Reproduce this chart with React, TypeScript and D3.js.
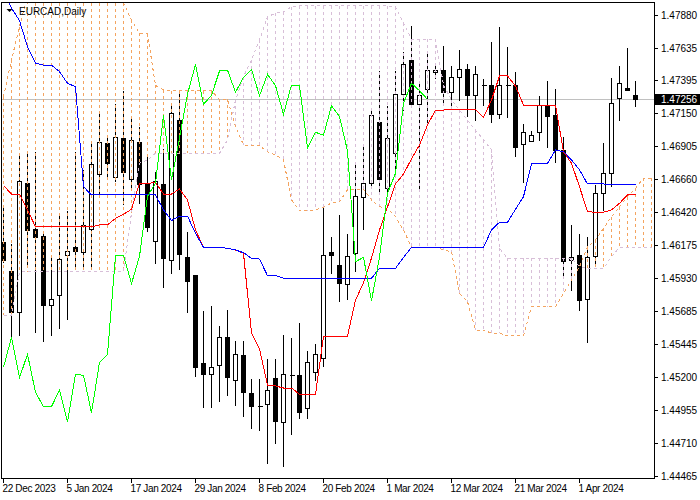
import React from "react";
import * as d3 from "d3";

const dateLabels = ["22 Dec 2023", "5 Jan 2024", "17 Jan 2024", "29 Jan 2024", "8 Feb 2024", "20 Feb 2024", "1 Mar 2024", "12 Mar 2024", "21 Mar 2024", "1 Apr 2024"];
const dateBars = [0, 8, 16, 24, 32, 40, 48, 56, 64, 72];
const priceTicks = ["1.47880", "1.47635", "1.47395", "1.47150", "1.46905", "1.46660", "1.46420", "1.46175", "1.45930", "1.45685", "1.45445", "1.45200", "1.44955", "1.44710", "1.44465"];
const lastPrice = 1.47256;

const open = [1.46199, 1.45981, 1.45678, 1.46632, 1.46297, 1.46238, 1.45733, 1.45802, 1.46103, 1.46157,
  1.46125, 1.46295, 1.46702, 1.46931, 1.46680, 1.46968, 1.46665, 1.46939, 1.46628, 1.46208,
  1.46628, 1.46063, 1.47103, 1.46083, 1.45950, 1.45304, 1.45223, 1.45284, 1.45496, 1.45180,
  1.45363, 1.45082, 1.44983, 1.45000, 1.45188, 1.44867, 1.45215, 1.45215, 1.44971, 1.45237,
  1.45341, 1.46127, 1.46029, 1.45888, 1.46114, 1.46532, 1.46632, 1.47086, 1.46595, 1.46854,
  1.47294, 1.47542, 1.47220, 1.47331, 1.47456, 1.47466, 1.47308, 1.47419, 1.47478, 1.47283,
  1.47355, 1.47362, 1.47146, 1.47357, 1.47357, 1.46924, 1.46946, 1.47013, 1.47207, 1.47133,
  1.46876, 1.46066, 1.46103, 1.45777, 1.46092, 1.46561, 1.46709, 1.47261, 1.47340, 1.47286];
const high = [1.46460, 1.46191, 1.46845, 1.46869, 1.46869, 1.46268, 1.46097, 1.46413, 1.46433, 1.46869,
  1.46734, 1.46931, 1.47177, 1.46993, 1.47227, 1.47325, 1.47128, 1.47054, 1.46852, 1.46721,
  1.46894, 1.47227, 1.47331, 1.46280, 1.45950, 1.45691, 1.45728, 1.45580, 1.45703, 1.45476,
  1.45476, 1.45193, 1.45193, 1.45341, 1.45341, 1.45518, 1.45493, 1.45609, 1.45402, 1.45452,
  1.46458, 1.46240, 1.46401, 1.46265, 1.46771, 1.46906, 1.47190, 1.47473, 1.47214, 1.47473,
  1.47609, 1.47799, 1.47399, 1.47621, 1.47510, 1.47658, 1.47510, 1.47626, 1.47518, 1.47503,
  1.47412, 1.47683, 1.47794, 1.47646, 1.47461, 1.47074, 1.47029, 1.47281, 1.47392, 1.47338,
  1.46985, 1.46327, 1.46265, 1.46245, 1.46623, 1.46939, 1.47419, 1.47503, 1.47641, 1.47392];
const low = [1.46053, 1.45501, 1.45513, 1.46031, 1.45530, 1.45464, 1.45513, 1.45563, 1.45629, 1.45994,
  1.46018, 1.46018, 1.46536, 1.46674, 1.46647, 1.46475, 1.46586, 1.46487, 1.46277, 1.46043,
  1.45866, 1.45969, 1.45999, 1.45678, 1.45205, 1.44978, 1.44978, 1.45020, 1.45069, 1.44995,
  1.44909, 1.44823, 1.44810, 1.44564, 1.44712, 1.44539, 1.44774, 1.44897, 1.44897, 1.45180,
  1.45279, 1.45969, 1.45759, 1.45777, 1.45981, 1.46290, 1.46610, 1.46561, 1.46561, 1.46709,
  1.47177, 1.47214, 1.46573, 1.47066, 1.47414, 1.47214, 1.47214, 1.47251, 1.47128, 1.47100,
  1.47207, 1.47083, 1.47116, 1.47123, 1.46837, 1.46640, 1.46946, 1.46950, 1.46899, 1.46788,
  1.45944, 1.45841, 1.45693, 1.45456, 1.46031, 1.46433, 1.46610, 1.47098, 1.47320, 1.47202];
const close = [1.46063, 1.45678, 1.46652, 1.46285, 1.46233, 1.45728, 1.45777, 1.46068, 1.46132, 1.46129,
  1.46325, 1.46771, 1.46939, 1.46780, 1.46976, 1.46717, 1.46953, 1.46628, 1.46307, 1.46647,
  1.46077, 1.47153, 1.46107, 1.45907, 1.45271, 1.45223, 1.45274, 1.45496, 1.45197, 1.45370,
  1.45089, 1.44983, 1.44983, 1.45106, 1.44872, 1.45223, 1.45215, 1.44938, 1.45311, 1.45370,
  1.46100, 1.46100, 1.45893, 1.46095, 1.46539, 1.46635, 1.47138, 1.46660, 1.46968, 1.47294,
  1.47515, 1.47220, 1.47286, 1.47466, 1.47473, 1.47308, 1.47419, 1.47478, 1.47283, 1.47441,
  1.47357, 1.47146, 1.47362, 1.47357, 1.46899, 1.47013, 1.46990, 1.47209, 1.47128, 1.46876,
  1.46055, 1.46088, 1.45767, 1.46088, 1.46561, 1.46709, 1.47227, 1.47375, 1.47320, 1.47256];

const tenkan = [1.46618, 1.46556, 1.46556, 1.46438, 1.46314, 1.46314, 1.46314, 1.46314, 1.46314, 1.46314,
  1.46314, 1.46314, 1.46327, 1.46327, 1.46376, 1.46406, 1.46443, 1.46635, 1.46635, 1.46640,
  1.46556, 1.46556, 1.46593, 1.46512, 1.46290, 1.46162, 1.46162, 1.46162, 1.46154, 1.46142,
  1.46117, 1.45526, 1.45410, 1.45143, 1.45136, 1.45121, 1.45121, 1.45075, 1.45075, 1.45075,
  1.45504, 1.45504, 1.45504, 1.45504, 1.45772, 1.45898, 1.46083, 1.46290, 1.46460, 1.46630,
  1.46704, 1.46815, 1.46919, 1.47066, 1.47177, 1.47177, 1.47183, 1.47183, 1.47183, 1.47183,
  1.47123, 1.47251, 1.47429, 1.47429, 1.47355, 1.47214, 1.47214, 1.47214, 1.47212, 1.47212,
  1.46869, 1.46783, 1.46610, 1.46425, 1.46421, 1.46421, 1.46438, 1.46487, 1.46549, 1.46549];
const kijun = [1.48050, 1.47932, 1.47838, 1.47646, 1.47523, 1.47510, 1.47510, 1.47461, 1.47375, 1.47350,
  1.46610, 1.46549, 1.46549, 1.46549, 1.46549, 1.46549, 1.46549, 1.46549, 1.46549, 1.46549,
  1.46438, 1.46359, 1.46393, 1.46393, 1.46265, 1.46162, 1.46162, 1.46162, 1.46154, 1.46142,
  1.46122, 1.46080, 1.46075, 1.45952, 1.45952, 1.45933, 1.45933, 1.45933, 1.45933, 1.45933,
  1.45933, 1.45933, 1.45933, 1.45933, 1.45933, 1.45933, 1.45933, 1.46006, 1.46006, 1.46006,
  1.46086, 1.46162, 1.46162, 1.46162, 1.46162, 1.46162, 1.46162, 1.46162, 1.46162, 1.46162,
  1.46162, 1.46290, 1.46347, 1.46347, 1.46443, 1.46536, 1.46778, 1.46783, 1.46783, 1.46882,
  1.46869, 1.46808, 1.46734, 1.46630, 1.46630, 1.46630, 1.46628, 1.46623, 1.46623, 1.46623];
const spanA = [1.47276, 1.47547, 1.47794, 1.48028, 1.48102, 1.48102, 1.48102, 1.48102, 1.48102, 1.48102,
  1.48102, 1.48102, 1.48102, 1.48102, 1.48102, 1.47969, 1.47843, 1.47745, 1.47740, 1.47359,
  1.47325, 1.47320, 1.47320, 1.47320, 1.47320, 1.47320, 1.47320, 1.47256, 1.47256, 1.47054,
  1.46919, 1.46913, 1.46913, 1.46869, 1.46845, 1.46808, 1.46512, 1.46433, 1.46433, 1.46438,
  1.46458, 1.46490, 1.46500, 1.46586, 1.46591, 1.46591, 1.46512, 1.46462, 1.46450, 1.46388,
  1.46290, 1.46162, 1.46162, 1.46162, 1.46162, 1.46142, 1.46129, 1.45822, 1.45760, 1.45550,
  1.45550, 1.45526, 1.45526, 1.45506, 1.45506, 1.45506, 1.45722, 1.45722, 1.45722, 1.45722,
  1.45822, 1.45920, 1.46018, 1.46166, 1.46216, 1.46302, 1.46388, 1.46462, 1.46536, 1.46598,
  1.46672, 1.46672];
const spanB = [1.45661, 1.45661, 1.45979, 1.45981, 1.45981, 1.45981, 1.45981, 1.45981, 1.45981, 1.45981,
  1.45981, 1.45981, 1.45981, 1.45981, 1.45981, 1.45981, 1.46416, 1.46783, 1.46808, 1.46857,
  1.46857, 1.46857, 1.46857, 1.46857, 1.46857, 1.46857, 1.46857, 1.46857, 1.46956, 1.47251,
  1.47424, 1.47547, 1.47695, 1.47867, 1.47893, 1.47904, 1.47941, 1.47947, 1.47947, 1.47947,
  1.47947, 1.47947, 1.47947, 1.47947, 1.47947, 1.47947, 1.47947, 1.47947, 1.47947, 1.47941,
  1.47819, 1.47700, 1.47700, 1.47700, 1.47700, 1.47362, 1.47251, 1.47177, 1.47103, 1.47029,
  1.46956, 1.46882, 1.46154, 1.46080, 1.46080, 1.46080, 1.46080, 1.46080, 1.46080, 1.46080,
  1.46080, 1.46080, 1.46018, 1.46006, 1.46006, 1.46006, 1.46092, 1.46162, 1.46162, 1.46162,
  1.46162, 1.46162];

const FONT = "'Liberation Sans', Arial, sans-serif";
const UP_KUMO = "#F4A460";
const DOWN_KUMO = "#D8BFD8";

export default function App() {
  const x = d3.scaleLinear().domain([0, 79]).range([3.5, 635.5]);
  const y = d3.scaleLinear().domain([1.44465, 1.4788]).range([476.7, 15]);
  const px = (v: number) => Math.floor(v) + 0.5;

  const mkLine = (vals: number[], offset = 0) =>
    d3
      .line<number>()
      .x((_, i) => x(i + offset))
      .y((d) => y(d))(vals) || "";

  const chikou = close.slice(26);
  const priceY = px(y(lastPrice));

  return (
    <svg
      width={700}
      height={500}
      style={{ position: "absolute", left: 0, top: 0, background: "#fff" }}
      fontFamily={FONT}
    >
      <defs>
        <clipPath id="plotClip">
          <rect x={2} y={3} width={652} height={475} />
        </clipPath>
      </defs>
      <rect x={0} y={0} width={700} height={500} fill="#fff" />
      <g clipPath="url(#plotClip)">
        <line x1={2} x2={654} y1={priceY} y2={priceY} stroke="#C0C0C0" strokeWidth={1} shapeRendering="crispEdges" />
        {open.map((o, i) => {
          const cx = x(i);
          const yo = y(o);
          const yc = y(close[i]);
          const top = px(Math.min(yo, yc));
          const bot = px(Math.max(yo, yc));
          const bull = close[i] >= o;
          return (
            <g key={"c" + i} shapeRendering="crispEdges">
              <line x1={cx} x2={cx} y1={px(y(high[i]))} y2={px(y(low[i]))} stroke="#000" strokeWidth={1} />
              {bot - top < 1 ? (
                <line x1={cx - 2} x2={cx + 3} y1={top} y2={top} stroke="#000" strokeWidth={1} />
              ) : (
                <rect x={cx - 2} y={top} width={4} height={bot - top} fill={bull ? "#fff" : "#000"} stroke="#000" strokeWidth={1} />
              )}
            </g>
          );
        })}
        {spanA.map((a, i) => {
          const ya = y(a);
          const yb = y(spanB[i]);
          return (
            <line
              key={"h" + i}
              x1={x(i)}
              x2={x(i)}
              y1={Math.min(ya, yb)}
              y2={Math.max(ya, yb)}
              stroke={a > spanB[i] ? UP_KUMO : DOWN_KUMO}
              strokeWidth={1}
              strokeDasharray="3,3"
              shapeRendering="crispEdges"
            />
          );
        })}
        <g shapeRendering="crispEdges" fill="none" strokeWidth={1}>
          <path d={mkLine(spanA)} stroke={UP_KUMO} strokeDasharray="3,3" />
          <path d={mkLine(spanB)} stroke={DOWN_KUMO} strokeDasharray="3,3" />
          <path d={mkLine(tenkan)} stroke="#FF0000" />
          <path d={mkLine(kijun)} stroke="#0000FF" />
          <path d={mkLine(chikou)} stroke="#00FF00" />
        </g>
      </g>
      <rect x={1.5} y={2.5} width={653} height={476} fill="none" stroke="#000" strokeWidth={1} shapeRendering="crispEdges" />
      {priceTicks.map((t) => {
        const ty = px(y(+t));
        return (
          <g key={"y" + t}>
            <line x1={655} x2={658} y1={ty} y2={ty} stroke="#000" shapeRendering="crispEdges" />
            <text x={661} y={ty + 3.5} fontSize={10} fill="#000">
              {t}
            </text>
          </g>
        );
      })}
      <rect x={655} y={priceY - 5.5} width={45} height={11} fill="#000" />
      <text x={661} y={priceY + 3.5} fontSize={10} fill="#fff">
        {lastPrice.toFixed(5)}
      </text>
      {dateBars.map((b, k) => (
        <g key={"x" + b}>
          <line x1={x(b)} x2={x(b)} y1={479} y2={483} stroke="#000" shapeRendering="crispEdges" />
          <text x={x(b) - 1} y={492} fontSize={10} letterSpacing={-0.35} fill="#000">
            {dateLabels[k]}
          </text>
        </g>
      ))}
      <path d="M6.5,9 L12.5,9 L9.5,12 Z" fill="#000" />
      <text x={19} y={14.5} fontSize={10} fill="#000">
        EURCAD,Daily
      </text>
    </svg>
  );
}
